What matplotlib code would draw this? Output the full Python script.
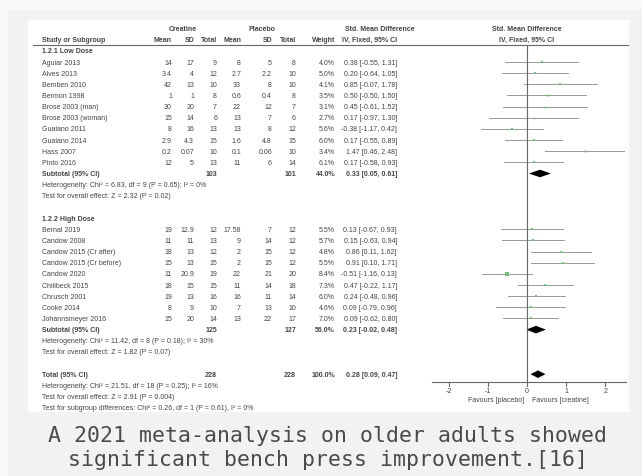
import matplotlib.pyplot as plt
from matplotlib.patches import Rectangle, Polygon

W, H = 642, 477

# ---------------- data ----------------
low_names = ["Aguiar 2013", "Alves 2013", "Bemben 2010", "Bermon 1998", "Brose 2003 (man)",
             "Brose 2003 (woman)", "Gualano 2011", "Gualano 2014", "Hass 2007", "Pinto 2016"]
low_cr_mean = [14, 3.4, 42, 1, 30, 15, 8, 2.9, 0.2, 12]
low_cr_sd = [17, 4, 13, 1, 20, 14, 16, 4.3, 0.07, 5]
low_cr_n = [9, 12, 10, 8, 7, 6, 13, 15, 10, 13]
low_pl_mean = [8, 2.7, 33, 0.6, 22, 13, 13, 1.6, 0.1, 11]
low_pl_sd = [5, 2.2, 8, 0.4, 12, 7, 8, 4.8, 0.06, 6]
low_pl_n = [8, 10, 10, 8, 7, 6, 12, 15, 10, 14]
low_weight = [4.0, 5.0, 4.1, 3.5, 3.1, 2.7, 5.6, 6.0, 3.4, 6.1]
low_smd = [0.38, 0.20, 0.85, 0.50, 0.45, 0.17, -0.38, 0.17, 1.47, 0.17]
low_lo = [-0.55, -0.64, -0.07, -0.50, -0.61, -0.97, -1.17, -0.55, 0.46, -0.58]
low_hi = [1.31, 1.05, 1.78, 1.50, 1.52, 1.30, 0.42, 0.89, 2.48, 0.93]

high_names = ["Bernal 2019", "Candow 2008", "Candow 2015 (Cr after)", "Candow 2015 (Cr before)",
              "Candow 2020", "Chilibeck 2015", "Chrusch 2001", "Cooke 2014", "Johannsmeyer 2016"]
high_cr_mean = [19, 11, 18, 15, 11, 18, 19, 8, 15]
high_cr_sd = [12.9, 11, 13, 13, 20.9, 15, 13, 9, 20]
high_cr_n = [12, 13, 12, 15, 19, 15, 16, 10, 14]
high_pl_mean = [17.58, 9, 2, 2, 22, 11, 16, 7, 13]
high_pl_sd = [7, 14, 15, 15, 21, 14, 11, 13, 22]
high_pl_n = [12, 12, 12, 12, 20, 18, 14, 10, 17]
high_weight = [5.5, 5.7, 4.8, 5.5, 8.4, 7.3, 6.0, 4.6, 7.0]
high_smd = [0.13, 0.15, 0.86, 0.91, -0.51, 0.47, 0.24, 0.09, 0.09]
high_lo = [-0.67, -0.63, 0.11, 0.10, -1.16, -0.22, -0.48, -0.79, -0.62]
high_hi = [0.93, 0.94, 1.62, 1.71, 0.13, 1.17, 0.96, 0.96, 0.80]

# subtotal / total: creatine n, placebo n, weight, smd, lo, hi
sub_low = [103, 101, 44.0, 0.33, 0.05, 0.61]
sub_high = [125, 127, 56.0, 0.23, -0.02, 0.48]
total = [228, 228, 100.0, 0.28, 0.09, 0.47]

het_low = ["Heterogeneity: Chi² = 6.83, df = 9 (P = 0.65); I² = 0%",
           "Test for overall effect: Z = 2.32 (P = 0.02)"]
het_high = ["Heterogeneity: Chi² = 11.42, df = 8 (P = 0.18); I² = 30%",
            "Test for overall effect: Z = 1.82 (P = 0.07)"]
het_total = ["Heterogeneity: Chi² = 21.51, df = 18 (P = 0.25); I² = 16%",
             "Test for overall effect: Z = 2.91 (P = 0.004)",
             "Test for subgroup differences: Chi² = 0.26, df = 1 (P = 0.61), I² = 0%"]

ticks = [-2, -1, 0, 1, 2]
caption = ["A 2021 meta-analysis on older adults showed",
           "significant bench press improvement.[16]"]

# ---------------- layout (pixels of the picture) ----------------
X0, X1, Y0, Y1 = 28, 629, 21, 413
ZERO, UNIT = 527, 39.2          # where SMD 0 sits and px per SMD unit
AXIS_Y = 383
col_x = [172, 194, 217, 241, 272, 296, 335, 397]   # right edges of numeric columns
TXT = "#444444"
FS = 5.0


def row_y(r):
    return 63 + (r - 3) * 11.15


plt.rcParams['font.family'] = ['Liberation Sans', 'DejaVu Sans']

fig = plt.figure(figsize=(W / 100, H / 100), dpi=100, facecolor="#f9f9f9")
fig.add_artist(Rectangle((8 / W, 0), (W - 8) / W, (H - 11) / H, zorder=-10,
                         transform=fig.transFigure, color="#f2f2f2", lw=0))

rect = [X0 / W, 1 - Y1 / H, (X1 - X0) / W, (Y1 - Y0) / H]
ax = fig.add_axes(rect)
ax.set_xlim(X0, X1)
ax.set_ylim(Y1, Y0)
ax.set_facecolor("white")
ax.set_xticks([])
ax.set_yticks([])
for s in ax.spines.values():
    s.set_visible(False)

# forest part shares the box, x in SMD units
fax = fig.add_axes(rect)
fax.set_xlim((X0 - ZERO) / UNIT, (X1 - ZERO) / UNIT)
fax.set_ylim(Y1, Y0)
fax.patch.set_alpha(0)
fax.axis("off")


def put(x, y, s, ha="right", bold=False):
    ax.text(x, y, s, ha=ha, va="center", fontsize=FS, color=TXT,
            fontweight="bold" if bold else "normal")


# headers
put(183, row_y(0), "Creatine", ha="center", bold=True)
put(262, row_y(0), "Placebo", ha="center", bold=True)
put(380, row_y(0), "Std. Mean Difference", ha="center", bold=True)
put(ZERO, row_y(0), "Std. Mean Difference", ha="center", bold=True)
put(42, row_y(1), "Study or Subgroup", ha="left", bold=True)
for x, h in zip(col_x, ["Mean", "SD", "Total", "Mean", "SD", "Total", "Weight",
                        "IV, Fixed, 95% CI"]):
    put(x, row_y(1), h, bold=True)
put(ZERO, row_y(1), "IV, Fixed, 95% CI", ha="center", bold=True)
ax.plot([33, 628], [45.5, 45.5], color="#666666", lw=0.8)


def study_rows(start, names, crm, crs, crn, plm, pls, pln, w, smd, lo, hi):
    for i in range(len(names)):
        y = row_y(start + i)
        put(42, y, names[i], ha="left")
        vals = [f"{crm[i]:g}", f"{crs[i]:g}", f"{crn[i]}", f"{plm[i]:g}", f"{pls[i]:g}",
                f"{pln[i]}", f"{w[i]:.1f}%", f"{smd[i]:.2f} [{lo[i]:.2f}, {hi[i]:.2f}]"]
        for x, v in zip(col_x, vals):
            put(x, y, v)
        fax.plot([lo[i], hi[i]], [y, y], color="#9a9a9a", lw=0.7)
        fax.plot(smd[i], y, "s", color="#6cc46c", ms=0.8 + w[i] * 0.18, mew=0)


def summary_row(r, label, vals):
    y = row_y(r)
    put(42, y, label, ha="left", bold=True)
    put(col_x[2], y, f"{vals[0]}", bold=True)
    put(col_x[5], y, f"{vals[1]}", bold=True)
    put(col_x[6], y, f"{vals[2]:.1f}%", bold=True)
    put(col_x[7], y, f"{vals[3]:.2f} [{vals[4]:.2f}, {vals[5]:.2f}]", bold=True)
    fax.add_patch(Polygon([(vals[4], y), (vals[3], y - 3.8), (vals[5], y), (vals[3], y + 3.8)],
                          closed=True, color="black", lw=0))


put(42, row_y(2), "1.2.1 Low Dose", ha="left", bold=True)
study_rows(3, low_names, low_cr_mean, low_cr_sd, low_cr_n, low_pl_mean, low_pl_sd, low_pl_n,
           low_weight, low_smd, low_lo, low_hi)
summary_row(13, "Subtotal (95% CI)", sub_low)
for k, s in enumerate(het_low):
    put(42, row_y(14 + k), s, ha="left")

put(42, row_y(17), "1.2.2 High Dose", ha="left", bold=True)
study_rows(18, high_names, high_cr_mean, high_cr_sd, high_cr_n, high_pl_mean, high_pl_sd,
           high_pl_n, high_weight, high_smd, high_lo, high_hi)
summary_row(27, "Subtotal (95% CI)", sub_high)
for k, s in enumerate(het_high):
    put(42, row_y(28 + k), s, ha="left")

summary_row(31, "Total (95% CI)", total)
for k, s in enumerate(het_total):
    put(42, row_y(32 + k), s, ha="left")

# zero line and axis
fax.plot([0, 0], [45.5, AXIS_Y], color="#666666", lw=0.8)
fax.plot([-2.42, 2.52], [AXIS_Y, AXIS_Y], color="#666666", lw=0.8)
for t in ticks:
    fax.plot([t, t], [AXIS_Y, AXIS_Y + 3.5], color="#666666", lw=0.8)
    fax.text(t, AXIS_Y + 9, f"{t}", ha="center", va="center", fontsize=FS, color=TXT)
fax.text(-0.08, AXIS_Y + 18, "Favours [placebo]", ha="right", va="center", fontsize=FS, color=TXT)
fax.text(0.13, AXIS_Y + 18, "Favours [creatine]", ha="left", va="center", fontsize=FS, color=TXT)

# caption
for k, line in enumerate(caption):
    fig.text(328 / W, 1 - (436 + 24 * k) / H, line, ha="center", va="center",
             family="DejaVu Sans Mono", fontsize=15.5, color="#4a4a4a")

fig.savefig("out.png", dpi=100, facecolor=fig.get_facecolor())
